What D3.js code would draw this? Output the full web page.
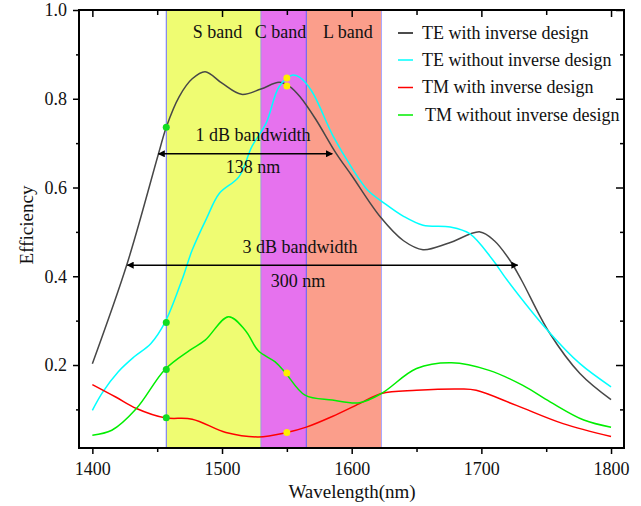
<!DOCTYPE html>
<html>
<head>
<meta charset="utf-8">
<script src="https://cdn.jsdelivr.net/npm/d3@7"></script>
<style>
  body { margin: 0; background: #fff; }
  svg text { font-family: "Liberation Serif", "Times New Roman", serif; fill: #111; }
</style>
</head>
<body>
<div id="chart"></div>
<script>
// Define SVG area dimensions
var svgWidth = 641;
var svgHeight = 506;

// chart margins (plot frame from x=79..624, y=10..448)
var chartMargin = { top: 10, right: 17, bottom: 58, left: 79 };
var chartWidth = svgWidth - chartMargin.left - chartMargin.right;
var chartHeight = svgHeight - chartMargin.top - chartMargin.bottom;

// data: [wavelength (nm), efficiency]
var teWith = [[1400,0.203],[1427,0.43],[1451,0.676],[1457,0.736],
  [1467,0.805],[1477,0.845],[1487,0.861],[1500,0.835],[1515,0.810],[1530,0.822],[1544,0.837],
  [1552,0.828],[1560,0.805],[1572,0.755],[1588,0.677],[1600,0.627],[1622,0.534],[1640,0.48],
  [1655,0.460],[1675,0.475],[1699,0.500],[1710,0.48],[1722,0.436],[1731,0.391],[1752,0.275],
  [1776,0.181],[1800,0.122]];
var teWithout = [[1400,0.098],[1408,0.139],[1420,0.185],[1432,0.218],[1445,0.248],[1456,0.296],
  [1469,0.391],[1477,0.459],[1488,0.53],[1498,0.587],[1513,0.624],[1523,0.692],[1534,0.745],
  [1544,0.827],[1554,0.853],[1560,0.848],[1569,0.818],[1586,0.714],[1600,0.645],[1612,0.595],
  [1625,0.565],[1640,0.535],[1655,0.515],[1676,0.511],[1691,0.496],[1709,0.436],[1720,0.391],
  [1752,0.275],[1776,0.203],[1800,0.151]];
var tmWith = [[1400,0.156],[1418,0.128],[1434,0.102],[1456,0.081],[1477,0.078],[1503,0.048],
  [1528,0.038],[1550,0.048],[1565,0.060],[1585,0.084],[1606,0.113],[1623,0.136],[1650,0.143],
  [1684,0.146],[1696,0.143],[1727,0.109],[1763,0.068],[1800,0.039]];
var tmWithout = [[1400,0.042],[1415,0.053],[1434,0.102],[1456,0.19],[1475,0.233],[1487,0.256],
  [1505,0.309],[1518,0.278],[1528,0.232],[1541,0.207],[1549,0.182],[1564,0.132],[1585,0.121],
  [1606,0.115],[1623,0.136],[1650,0.192],[1677,0.205],[1706,0.188],[1732,0.154],[1753,0.117],
  [1779,0.076],[1800,0.060]];

var seriesNames = ["TE with inverse design", "TE without inverse design", "TM with inverse design", "TM without inverse design"];
var seriesColors = ["#474747", "#00ffff", "#ff0000", "#00ee00"];
var seriesData = [teWith, teWithout, tmWith, tmWithout];

// telecom bands
var bandNames = ["S band", "C band", "L band"];
var bandStarts = [1457, 1530, 1565];
var bandEnds = [1530, 1565, 1623];
var bandColors = ["#effc72", "#e672ee", "#fb9e8b"];

// marker points
var greenDotX = 1457;
var greenDotY = [0.736, 0.296, 0.19, 0.081];
var yellowDotX = 1550;
var yellowDotY = [0.847, 0.829, 0.182, 0.048];

// bandwidth arrows
var arrowStarts = [1451, 1427];
var arrowEnds = [1585, 1728];
var arrowLevels = [0.676, 0.425];
var arrowTitles = ["1 dB bandwidth", "3 dB bandwidth"];
var arrowValues = ["138 nm", "300 nm"];

var xMajor = [1400, 1500, 1600, 1700, 1800];
var xMinor = [1450, 1550, 1650, 1750];
var yMajor = [0.2, 0.4, 0.6, 0.8, 1.0];
var yMinor = [0.1, 0.3, 0.5, 0.7, 0.9];

var svg = d3.select("#chart")
  .append("svg")
  .attr("width", svgWidth)
  .attr("height", svgHeight);

var defs = svg.append("defs");
defs.append("marker")
  .attr("id", "arrowHead")
  .attr("viewBox", "0 0 10 10")
  .attr("refX", 9)
  .attr("refY", 5)
  .attr("markerWidth", 7)
  .attr("markerHeight", 7)
  .attr("markerUnits", "userSpaceOnUse")
  .attr("orient", "auto-start-reverse")
  .append("path")
  .attr("d", "M0,0 L10,5 L0,10 Z")
  .attr("fill", "#000");

var chartGroup = svg.append("g")
  .attr("transform", "translate(" + chartMargin.left + ", " + chartMargin.top + ")");

var xScale = d3.scaleLinear().domain([1389.7, 1810]).range([0, chartWidth]);
var yScale = d3.scaleLinear().domain([0.013, 1.0]).range([chartHeight, 0]);

// bands
chartGroup.selectAll(".band")
  .data(bandNames)
  .enter()
  .append("rect")
  .attr("class", "band")
  .attr("x", function (d, i) { return xScale(bandStarts[i]); })
  .attr("y", 0)
  .attr("width", function (d, i) { return xScale(bandEnds[i]) - xScale(bandStarts[i]); })
  .attr("height", chartHeight)
  .attr("fill", function (d, i) { return bandColors[i]; });

// band edges
var edges = [bandStarts[0], bandStarts[1], bandStarts[2], bandEnds[2]];
var edgeColors = ["#6b6bff", "#9a9ae0", "#5a5aff", "#a9a9ff"];
chartGroup.selectAll(".edge")
  .data(edges)
  .enter()
  .append("line")
  .attr("x1", function (d) { return xScale(d); })
  .attr("x2", function (d) { return xScale(d); })
  .attr("y1", 0)
  .attr("y2", chartHeight)
  .attr("stroke", function (d, i) { return edgeColors[i]; })
  .attr("stroke-width", 1);

chartGroup.selectAll(".bandLabel")
  .data(bandNames)
  .enter()
  .append("text")
  .attr("x", function (d, i) { return xScale((bandStarts[i] + bandEnds[i]) / 2) + (i === 1 ? -3 : 4); })
  .attr("y", 28)
  .attr("text-anchor", "middle")
  .style("font-size", "18px")
  .text(function (d) { return d; });

// curves
var line = d3.line()
  .x(function (d) { return xScale(d[0]); })
  .y(function (d) { return yScale(d[1]); })
  .curve(d3.curveCatmullRom.alpha(0.5));

chartGroup.selectAll(".curve")
  .data(seriesData)
  .enter()
  .append("path")
  .attr("class", "curve")
  .attr("d", line)
  .attr("fill", "none")
  .attr("stroke", function (d, i) { return seriesColors[i]; })
  .attr("stroke-width", 1.5);

// dots
chartGroup.selectAll(".gdot")
  .data(greenDotY)
  .enter()
  .append("circle")
  .attr("cx", xScale(greenDotX))
  .attr("cy", function (d) { return yScale(d); })
  .attr("r", 3.5)
  .attr("fill", "#11dd22");

chartGroup.selectAll(".ydot")
  .data(yellowDotY)
  .enter()
  .append("circle")
  .attr("cx", xScale(yellowDotX))
  .attr("cy", function (d) { return yScale(d); })
  .attr("r", 3.5)
  .attr("fill", "#ffee00");

// bandwidth arrows
arrowTitles.forEach(function (t, i) {
  var y = yScale(arrowLevels[i]);
  var x1 = xScale(arrowStarts[i]);
  var x2 = xScale(arrowEnds[i]);
  chartGroup.append("line")
    .attr("x1", x1).attr("x2", x2)
    .attr("y1", y).attr("y2", y)
    .attr("stroke", "#000")
    .attr("stroke-width", 1.5)
    .attr("marker-start", "url(#arrowHead)")
    .attr("marker-end", "url(#arrowHead)");
});

chartGroup.append("text")
  .attr("x", 253 - chartMargin.left).attr("y", 141 - chartMargin.top)
  .attr("text-anchor", "middle").style("font-size", "18px").text(arrowTitles[0]);
chartGroup.append("text")
  .attr("x", 253 - chartMargin.left).attr("y", 173 - chartMargin.top)
  .attr("text-anchor", "middle").style("font-size", "18px").text(arrowValues[0]);
chartGroup.append("text")
  .attr("x", 300 - chartMargin.left).attr("y", 253 - chartMargin.top)
  .attr("text-anchor", "middle").style("font-size", "18px").text(arrowTitles[1]);
chartGroup.append("text")
  .attr("x", 298 - chartMargin.left).attr("y", 287 - chartMargin.top)
  .attr("text-anchor", "middle").style("font-size", "18px").text(arrowValues[1]);

// axes
var bottomAxis = d3.axisBottom(xScale).tickValues(xMajor).tickSize(6).tickSizeOuter(0).tickFormat(d3.format("d"));
var bottomMinor = d3.axisBottom(xScale).tickValues(xMinor).tickSize(4).tickSizeOuter(0).tickFormat("");
var leftAxis = d3.axisLeft(yScale).tickValues(yMajor).tickSize(6).tickSizeOuter(0).tickFormat(d3.format(".1f"));
var leftMinor = d3.axisLeft(yScale).tickValues(yMinor).tickSize(3).tickSizeOuter(0).tickFormat("");
var topAxis = d3.axisBottom(xScale).tickValues(xMajor).tickSize(7).tickSizeOuter(0).tickFormat("");
var topMinor = d3.axisBottom(xScale).tickValues(xMinor).tickSize(5).tickSizeOuter(0).tickFormat("");
var rightAxis = d3.axisLeft(yScale).tickValues(yMajor).tickSize(8).tickSizeOuter(0).tickFormat("");
var rightMinor = d3.axisLeft(yScale).tickValues(yMinor).tickSize(4).tickSizeOuter(0).tickFormat("");

function styleAxis(g) {
  g.select(".domain").remove();
  g.selectAll(".tick line").attr("stroke", "#000").attr("stroke-width", 1.5);
  g.selectAll(".tick text")
    .style("font-family", "'Liberation Serif', 'Times New Roman', serif")
    .style("font-size", "18px")
    .attr("fill", "#111");
}

chartGroup.append("g").attr("transform", "translate(0, " + chartHeight + ")").call(bottomAxis).call(styleAxis)
  .selectAll(".tick text").attr("dy", "1.0em");
chartGroup.append("g").attr("transform", "translate(0, " + chartHeight + ")").call(bottomMinor).call(styleAxis);
chartGroup.append("g").call(leftAxis).call(styleAxis)
  .selectAll(".tick text").attr("x", -12);
chartGroup.append("g").call(leftMinor).call(styleAxis);
chartGroup.append("g").call(topAxis).call(styleAxis);
chartGroup.append("g").call(topMinor).call(styleAxis);
chartGroup.append("g").attr("transform", "translate(" + chartWidth + ", 0)").call(rightAxis).call(styleAxis);
chartGroup.append("g").attr("transform", "translate(" + chartWidth + ", 0)").call(rightMinor).call(styleAxis);

// frame
chartGroup.append("rect")
  .attr("x", 0).attr("y", 0)
  .attr("width", chartWidth).attr("height", chartHeight)
  .attr("fill", "none")
  .attr("stroke", "#000")
  .attr("stroke-width", 2);

// legend
var legend = svg.append("g").attr("class", "legend");
var legendY = [33, 60, 87.5, 115];
var legendTextX = [422, 422, 422, 425];
seriesNames.forEach(function (name, i) {
  legend.append("line")
    .attr("x1", 398).attr("x2", 413)
    .attr("y1", legendY[i]).attr("y2", legendY[i])
    .attr("stroke", seriesColors[i] === "#474747" ? "#111" : seriesColors[i])
    .attr("stroke-width", 1.5);
  legend.append("text")
    .attr("x", legendTextX[i])
    .attr("y", legendY[i] + 5.5)
    .style("font-size", "18px")
    .text(name);
});

// axis titles
svg.append("text")
  .attr("x", 352).attr("y", 498)
  .attr("text-anchor", "middle")
  .style("font-size", "19px")
  .text("Wavelength(nm)");
svg.append("text")
  .attr("transform", "translate(33, 225) rotate(-90)")
  .attr("text-anchor", "middle")
  .style("font-size", "19px")
  .text("Efficiency");
</script>
</body>
</html>
